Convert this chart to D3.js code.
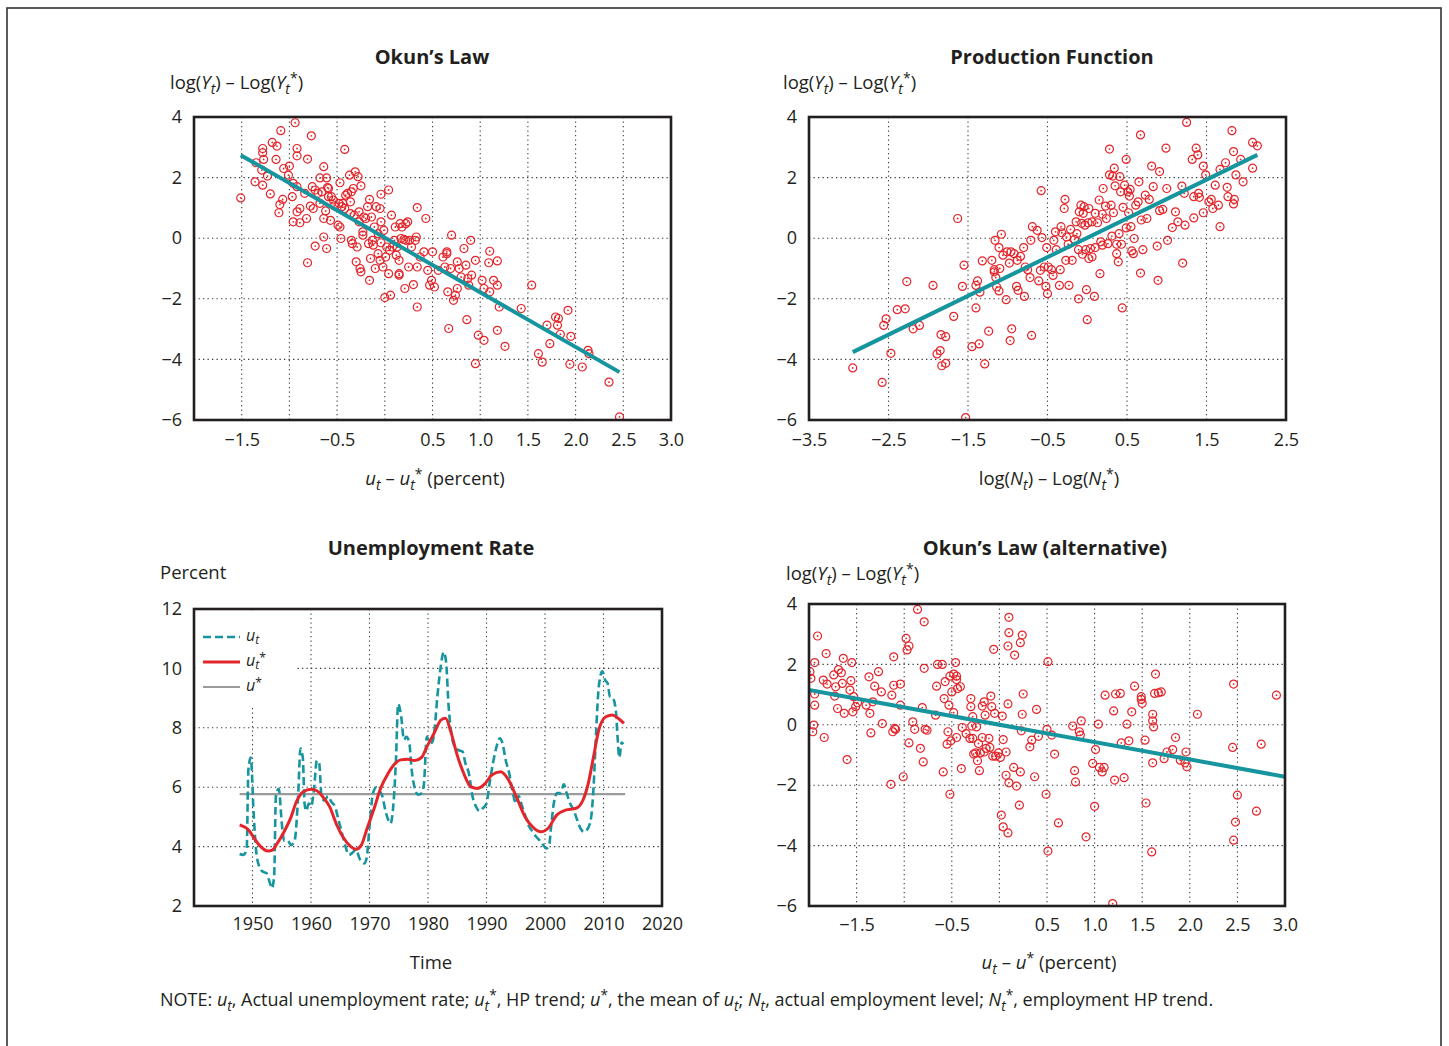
<!DOCTYPE html>
<html>
<head>
<meta charset="utf-8">
<script src="https://cdn.jsdelivr.net/npm/d3@7"></script>
<style>
  body { margin: 0; background: #fff; }
  text { font-family: "Open Sans", sans-serif; fill: #231f20; }
</style>
</head>
<body>
<svg id="chart" width="1449" height="1046"></svg>
<script>
// Four panels: Okun's law, production function, unemployment rate, Okun's law (alternative)

// ---- data ----
// Okun's law: [u_t - u_t*, log(Y_t) - log(Y_t*)]
const okunPoints = [
  [-1.51,1.33],[-1.35,2.49],[-1.36,1.86],[-1.28,2.96],[-1.28,2.82],[-1.27,2.60],[-1.28,1.75],[-1.29,2.25],
  [-1.23,2.05],[-1.20,1.46],[-1.18,3.16],[-1.13,3.04],[-1.14,2.60],[-1.09,3.55],[-1.11,0.84],[-1.10,1.11],
  [-1.07,1.28],[-1.06,2.30],[-1.00,2.38],[-1.01,2.08],[-0.97,1.37],[-0.96,0.54],[-0.96,1.81],[-0.94,3.81],
  [-0.92,2.96],[-0.92,2.72],[-0.92,1.70],[-0.92,0.87],[-0.89,0.98],[-0.89,0.51],[-0.82,0.65],[-0.81,2.61],
  [-0.84,1.48],[-0.81,-0.81],[-0.77,3.38],[-0.78,1.06],[-0.76,1.70],[-0.75,0.98],[-0.73,-0.26],[-0.73,1.59],
  [-0.70,1.48],[-0.68,1.99],[-0.68,1.15],[-0.66,1.53],[-0.64,2.36],[-0.64,0.65],[-0.64,0.04],[-0.62,0.90],
  [-0.61,1.99],[-0.61,-0.34],[-0.60,1.67],[-0.59,1.37],[-0.59,1.64],[-0.57,0.59],[-0.56,1.37],[-0.54,1.26],
  [-0.53,1.07],[-0.49,0.43],[-0.48,1.15],[-0.47,1.83],[-0.47,0.37],[-0.46,-0.01],[-0.45,1.04],[-0.44,1.15],
  [-0.42,2.93],[-0.42,0.98],[-0.41,1.42],[-0.39,1.48],[-0.37,2.08],[-0.36,0.81],[-0.36,1.20],[-0.35,-0.07],
  [-0.35,1.53],[-0.34,-0.18],[-0.33,1.64],[-0.32,0.76],[-0.31,2.19],[-0.30,-0.78],[-0.29,-0.29],[-0.28,2.03],
  [-0.27,0.87],[-0.26,-1.00],[-0.25,1.73],[-0.25,-1.11],[-0.27,0.54],[-0.23,0.21],[-0.23,0.10],[-0.22,0.70],
  [-0.20,0.65],[-0.18,1.04],[-0.17,-0.18],[-0.16,1.28],[-0.16,-1.39],[-0.15,-0.67],[-0.14,0.70],[-0.13,-0.07],
  [-0.12,-0.23],[-0.11,0.37],[-0.10,-1.00],[-0.09,1.04],[-0.07,-0.51],[-0.07,0.15],[-0.05,0.98],[-0.05,-0.73],
  [-0.04,0.54],[-0.04,1.45],[-0.04,-0.15],[-0.02,-0.95],[-0.01,0.26],[0.00,-1.96],[0.01,-0.62],[0.02,-0.29],
  [0.04,1.59],[0.04,-1.17],[0.05,-0.40],[0.06,-1.88],[0.07,0.76],[0.08,-0.29],[0.10,-0.07],[0.11,0.37],
  [0.12,-0.56],[0.13,-0.29],[0.15,-1.17],[0.15,-0.73],[0.15,-1.22],[0.16,0.48],[0.17,-0.01],[0.18,0.37],
  [0.20,-0.04],[0.21,-1.66],[0.22,-0.07],[0.22,0.48],[0.24,0.54],[0.25,-0.95],[0.26,-0.07],[0.28,-0.29],
  [0.30,-1.53],[0.32,-0.07],[0.33,0.04],[0.34,1.01],[0.34,-2.27],[0.34,-0.95],[0.37,-0.62],[0.41,-0.45],
  [0.43,0.65],[0.45,-1.06],[0.47,-1.55],[0.49,-1.39],[0.50,-0.45],[0.52,-1.61],[0.56,-1.06],[0.61,-0.62],
  [0.63,-0.95],[0.65,-0.51],[0.65,-0.45],[0.66,-1.77],[0.67,-2.98],[0.69,-1.00],[0.70,0.10],[0.72,-2.05],
  [0.74,-1.88],[0.76,-1.66],[0.76,-0.78],[0.78,-1.00],[0.80,-1.28],[0.83,-0.34],[0.85,-0.89],[0.86,-2.69],
  [0.87,-1.33],[0.88,-1.55],[0.90,-0.07],[0.91,-1.22],[0.95,-0.73],[0.95,-4.14],[0.98,-3.20],[1.02,-1.39],
  [1.04,-3.37],[1.04,-1.66],[1.09,-0.81],[1.10,-0.43],[1.10,-1.77],[1.14,-1.39],[1.18,-1.55],[1.18,-0.75],
  [1.18,-3.04],[1.20,-2.27],[1.26,-3.57],[1.43,-2.32],[1.54,-1.55],[1.61,-3.81],[1.65,-4.09],[1.70,-2.87],
  [1.73,-3.48],[1.79,-2.60],[1.81,-2.87],[1.82,-2.65],[1.84,-3.17],[1.92,-2.38],[1.94,-4.16],[1.95,-3.24],
  [2.07,-4.25],[2.13,-3.70],[2.14,-3.81],[2.35,-4.75],[2.46,-5.90]
];
const okunFit = [[-1.51,2.74],[2.46,-4.42]];

// Production function: [log(N_t) - log(N_t*), log(Y_t) - log(Y_t*)]
const prodPoints = [
  [-2.95,-4.28],[-2.58,-4.76],[-2.56,-2.88],[-2.53,-2.66],[-2.47,-3.80],[-2.39,-2.36],[-2.29,-2.33],[-2.27,-1.43],
  [-2.19,-2.99],[-2.11,-2.88],[-1.94,-1.56],[-1.89,-3.82],[-1.85,-3.71],[-1.84,-3.18],[-1.83,-4.21],[-1.78,-4.13],
  [-1.78,-3.25],[-1.68,-2.58],[-1.63,0.65],[-1.57,-1.59],[-1.55,-0.89],[-1.53,-5.92],[-1.45,-3.58],[-1.40,-2.30],
  [-1.40,-1.56],[-1.38,-1.41],[-1.36,-3.49],[-1.35,-1.78],[-1.32,-0.75],[-1.29,-4.15],[-1.24,-3.07],[-1.20,-0.73],
  [-1.17,-1.04],[-1.17,-1.11],[-1.16,-0.07],[-1.15,-1.30],[-1.14,-1.61],[-1.11,-1.74],[-1.11,-0.31],[-1.10,-1.00],
  [-1.08,0.13],[-1.06,-0.56],[-1.02,-2.03],[-1.01,-0.45],[-0.98,-0.82],[-0.97,-3.38],[-0.96,-0.45],[-0.95,-2.99],
  [-0.92,-0.51],[-0.89,-1.59],[-0.88,-0.73],[-0.87,-1.72],[-0.84,-0.60],[-0.80,-0.31],[-0.79,-1.92],[-0.78,-0.95],
  [-0.75,-1.04],[-0.72,-1.30],[-0.71,-0.07],[-0.70,-3.21],[-0.69,0.38],[-0.63,0.26],[-0.61,-1.41],[-0.59,-1.06],
  [-0.58,1.57],[-0.57,0.02],[-0.54,-0.95],[-0.52,-1.59],[-0.51,-0.31],[-0.50,-1.83],[-0.49,-0.95],[-0.45,-1.04],
  [-0.43,-1.23],[-0.42,-0.07],[-0.40,0.21],[-0.39,-0.38],[-0.35,-1.56],[-0.34,-1.04],[-0.33,0.38],[-0.32,0.18],
  [-0.29,0.98],[-0.28,1.28],[-0.27,-0.73],[-0.26,0.04],[-0.24,-0.20],[-0.23,-1.56],[-0.21,0.29],[-0.19,-0.73],
  [-0.16,-0.04],[-0.14,0.54],[-0.13,0.15],[-0.11,-0.38],[-0.11,-2.00],[-0.10,0.87],[-0.08,1.09],[-0.07,0.49],
  [-0.06,-0.53],[-0.05,0.82],[-0.04,1.04],[-0.03,0.43],[-0.02,-0.38],[-0.01,-1.70],[0.00,-2.69],[0.01,0.51],
  [0.02,-0.67],[0.02,0.98],[0.04,-0.34],[0.06,0.54],[0.06,-0.62],[0.09,-1.92],[0.10,0.82],[0.10,-0.31],
  [0.13,0.51],[0.15,1.26],[0.16,-1.17],[0.17,-0.12],[0.19,-0.23],[0.19,0.79],[0.20,1.64],[0.23,1.06],
  [0.24,0.65],[0.26,-0.18],[0.28,2.94],[0.28,2.09],[0.30,1.09],[0.31,0.07],[0.32,2.05],[0.33,0.84],
  [0.34,2.31],[0.35,1.73],[0.37,-0.20],[0.37,-0.51],[0.39,-0.78],[0.40,0.15],[0.41,2.03],[0.42,1.53],
  [0.43,-0.20],[0.44,-2.30],[0.45,1.02],[0.47,1.75],[0.49,2.60],[0.49,0.34],[0.51,1.53],[0.52,0.84],
  [0.53,1.39],[0.54,1.61],[0.55,0.38],[0.56,-0.42],[0.58,-0.51],[0.59,-0.01],[0.61,1.09],[0.64,1.20],
  [0.65,1.86],[0.67,3.41],[0.67,-1.15],[0.68,0.60],[0.70,-0.38],[0.73,1.42],[0.75,0.65],[0.78,1.28],
  [0.81,2.38],[0.83,1.70],[0.88,-0.26],[0.89,-1.39],[0.91,2.20],[0.91,0.91],[0.95,0.95],[0.99,2.97],
  [1.00,1.64],[1.01,-0.07],[1.07,0.35],[1.11,0.87],[1.14,0.54],[1.19,1.72],[1.20,-0.82],[1.22,1.48],
  [1.25,3.82],[1.23,0.43],[1.32,2.60],[1.34,0.67],[1.34,1.37],[1.37,2.97],[1.39,2.75],[1.40,1.48],
  [1.41,1.35],[1.46,2.38],[1.46,0.84],[1.49,2.09],[1.53,1.20],[1.56,1.28],[1.58,0.98],[1.61,1.75],
  [1.65,1.09],[1.67,0.38],[1.67,2.27],[1.74,2.49],[1.76,1.68],[1.77,1.37],[1.82,3.55],[1.84,2.86],
  [1.84,1.13],[1.85,1.28],[1.87,2.09],[1.93,2.60],[1.96,1.86],[2.08,2.31],[2.08,3.16],[2.14,3.05]
];
const prodFit = [[-2.95,-3.76],[2.14,2.75]];

// Okun's law (alternative): [u_t - u*, log(Y_t) - log(Y_t*)]
const altPoints = [
  [-1.99,1.76],[-1.98,1.54],[-1.96,-0.23],[-1.95,-0.01],[-1.94,0.65],[-1.94,2.06],[-1.94,1.02],[-1.91,2.94],
  [-1.85,1.48],[-1.84,-0.42],[-1.82,2.36],[-1.81,1.35],[-1.74,1.65],[-1.73,0.95],[-1.72,1.26],[-1.70,0.54],
  [-1.69,1.83],[-1.66,1.72],[-1.65,1.37],[-1.64,2.20],[-1.63,0.38],[-1.60,-1.15],[-1.57,1.15],[-1.56,1.46],
  [-1.55,2.06],[-1.54,0.43],[-1.53,0.93],[-1.51,0.60],[-1.49,0.73],[-1.40,0.65],[-1.37,1.59],[-1.36,0.38],
  [-1.35,-0.27],[-1.33,0.76],[-1.31,1.28],[-1.27,1.76],[-1.24,1.09],[-1.23,0.04],[-1.14,-1.97],[-1.13,0.98],
  [-1.12,-0.23],[-1.11,2.25],[-1.11,1.31],[-1.10,-0.12],[-1.09,-0.15],[-1.04,1.35],[-1.04,0.65],[-1.01,-1.72],
  [-0.98,2.86],[-0.97,2.48],[-0.95,2.61],[-0.95,-0.60],[-0.91,0.10],[-0.89,-0.15],[-0.86,3.82],[-0.83,-0.78],
  [-0.81,0.57],[-0.80,-1.23],[-0.79,1.87],[-0.79,3.41],[-0.78,-0.15],[-0.76,-0.18],[-0.67,0.32],[-0.66,1.28],
  [-0.65,2.00],[-0.60,2.00],[-0.59,-1.56],[-0.58,0.87],[-0.57,1.43],[-0.55,-0.64],[-0.54,-0.23],[-0.53,0.65],
  [-0.52,-2.30],[-0.52,1.61],[-0.51,-0.53],[-0.50,1.09],[-0.48,1.68],[-0.48,0.40],[-0.46,2.06],[-0.45,1.61],
  [-0.45,-0.42],[-0.45,1.50],[-0.44,1.20],[-0.41,1.26],[-0.40,-1.45],[-0.39,-0.09],[-0.35,-0.29],[-0.31,-0.45],
  [-0.30,0.87],[-0.30,0.60],[-0.29,-0.04],[-0.28,0.27],[-0.28,-0.45],[-0.27,-0.97],[-0.25,-0.93],[-0.24,-0.07],
  [-0.23,-1.19],[-0.22,-0.62],[-0.21,-1.52],[-0.20,-0.93],[-0.18,-0.42],[-0.18,0.62],[-0.16,0.76],[-0.16,-0.90],
  [-0.15,0.32],[-0.14,-0.78],[-0.11,-0.45],[-0.10,-0.75],[-0.09,0.95],[-0.08,0.60],[-0.07,-1.04],[-0.06,2.50],
  [-0.05,0.38],[-0.04,-1.04],[-0.01,-0.93],[0.01,-1.08],[0.02,-2.99],[0.03,0.29],[0.04,-0.49],[0.04,-3.38],
  [0.07,-0.90],[0.07,-1.67],[0.09,-3.58],[0.09,2.61],[0.09,0.69],[0.10,3.05],[0.10,3.56],[0.10,-1.92],
  [0.15,-1.41],[0.16,2.31],[0.18,-2.03],[0.21,-2.66],[0.22,2.72],[0.22,-1.56],[0.23,-0.20],[0.24,2.97],
  [0.24,0.35],[0.25,1.02],[0.32,-0.73],[0.34,-0.51],[0.37,-1.72],[0.39,0.51],[0.41,-0.38],[0.49,-2.30],
  [0.50,-0.15],[0.51,-4.18],[0.51,2.09],[0.55,-0.34],[0.58,-0.97],[0.62,-3.25],[0.77,-0.04],[0.79,-1.52],
  [0.80,-1.89],[0.84,-0.23],[0.85,-0.34],[0.86,0.13],[0.91,-3.71],[0.98,-1.28],[1.00,-2.70],[1.01,-0.82],
  [1.04,0.02],[1.05,-1.41],[1.08,-1.56],[1.10,-1.41],[1.11,0.98],[1.20,0.46],[1.21,-1.83],[1.22,1.02],
  [1.27,1.04],[1.28,-0.60],[1.31,-1.75],[1.34,0.02],[1.36,-0.53],[1.39,0.43],[1.42,1.28],[1.49,0.93],
  [1.49,0.84],[1.50,0.71],[1.53,-0.51],[1.54,-2.59],[1.60,-4.21],[1.61,-1.26],[1.61,0.35],[1.61,0.13],
  [1.62,-0.07],[1.63,1.04],[1.64,1.68],[1.67,1.06],[1.70,1.09],[1.73,-1.12],[1.76,-0.90],[1.82,-0.82],
  [1.85,-0.42],[1.90,-1.17],[1.95,-1.26],[1.96,-0.90],[1.97,-1.39],[2.08,0.35],[2.45,-0.75],[2.46,1.35],
  [2.46,-3.82],[2.48,-3.22],[2.50,-2.33],[2.70,-2.86],[2.75,-0.64],[2.91,0.98],[1.19,-5.92]
];
const altFit = [[-2.0,1.15],[3.0,-1.72]];

// Unemployment rate: [year, percent]
const uActual = [
  [1947.8,3.75],[1948.4,3.72],[1949.0,3.9],[1949.3,6.6],[1949.7,7.0],[1950.2,5.1],[1950.6,3.9],[1951.2,3.3],
  [1951.8,3.15],[1952.4,3.1],[1953.0,2.76],[1953.3,2.6],[1953.7,3.0],[1954.0,5.7],[1954.5,5.95],[1955.0,4.8],
  [1955.4,4.2],[1956.0,4.2],[1956.6,4.05],[1957.2,4.2],[1957.8,5.7],[1958.2,7.3],[1958.6,7.0],[1958.9,5.45],
  [1959.2,5.2],[1959.6,5.45],[1960.0,5.35],[1960.5,5.9],[1961.0,6.9],[1961.4,6.8],[1961.8,5.7],[1962.3,5.55],
  [1962.9,5.7],[1963.5,5.5],[1964.1,5.35],[1964.7,4.9],[1965.3,4.45],[1965.9,4.0],[1966.5,3.72],[1967.0,3.78],
  [1967.7,3.9],[1968.3,3.6],[1969.1,3.43],[1969.5,3.6],[1970.0,4.67],[1970.6,5.8],[1971.2,6.0],[1971.8,5.85],
  [1972.2,5.7],[1972.7,5.23],[1973.2,4.9],[1973.6,4.78],[1974.0,5.23],[1974.5,6.8],[1974.9,8.8],[1975.4,8.4],
  [1975.9,7.6],[1976.3,7.7],[1976.8,7.5],[1977.2,6.6],[1977.7,6.0],[1978.3,5.75],[1978.9,5.8],[1979.3,6.1],
  [1979.8,7.7],[1980.3,7.5],[1980.7,7.5],[1981.1,7.9],[1981.6,9.05],[1982.1,9.95],[1982.7,10.55],[1983.1,10.2],
  [1983.5,8.8],[1984.0,7.8],[1984.6,7.35],[1985.2,7.25],[1985.9,7.2],[1986.4,6.8],[1987.0,6.45],[1987.6,5.7],
  [1988.2,5.35],[1988.8,5.2],[1989.4,5.3],[1990.0,5.45],[1990.5,6.1],[1991.1,6.8],[1991.7,7.35],[1992.3,7.65],
  [1992.7,7.5],[1993.3,6.9],[1993.9,6.45],[1994.5,5.8],[1995.1,5.45],[1995.5,5.7],[1996.1,5.35],[1996.7,5.0],
  [1997.3,4.67],[1997.9,4.5],[1998.5,4.33],[1999.1,4.2],[1999.7,4.05],[2000.2,3.94],[2000.7,4.05],[2001.1,4.78],
  [2001.5,5.45],[2002.1,5.8],[2002.7,5.8],[2003.2,6.1],[2003.7,5.8],[2004.3,5.45],[2004.9,5.23],[2005.5,4.9],
  [2006.1,4.6],[2006.7,4.5],[2007.3,4.6],[2007.9,5.0],[2008.3,6.0],[2008.7,7.7],[2009.2,9.4],[2009.8,9.9],
  [2010.3,9.6],[2010.7,9.5],[2011.1,9.05],[2011.6,9.0],[2012.1,8.6],[2012.4,7.7],[2012.7,7.0],[2013.1,7.5],
  [2013.4,7.45]
];
const uTrend = [
  [1947.8,4.73],[1949.4,4.54],[1950.3,4.28],[1951.4,4.0],[1952.7,3.85],[1953.4,3.88],[1954.2,4.1],[1955.4,4.5],
  [1956.6,5.0],[1957.5,5.51],[1958.7,5.85],[1960.0,5.93],[1961.0,5.88],[1962.0,5.68],[1963.2,5.34],[1964.4,4.73],
  [1965.6,4.28],[1966.8,4.0],[1967.7,3.91],[1968.6,4.05],[1969.5,4.56],[1970.7,5.23],[1971.9,5.96],[1973.2,6.47],
  [1974.4,6.8],[1975.3,6.92],[1976.5,6.94],[1977.7,6.9],[1978.9,7.0],[1979.8,7.36],[1981.0,7.8],[1982.2,8.26],
  [1983.0,8.32],[1983.9,7.87],[1984.9,7.14],[1986.1,6.47],[1987.3,6.02],[1988.5,5.96],[1989.7,6.11],[1990.9,6.41],
  [1992.4,6.52],[1993.6,6.3],[1995.1,5.68],[1996.6,5.0],[1998.1,4.62],[1999.3,4.5],[2000.5,4.61],[2002.0,5.06],
  [2003.5,5.23],[2005.3,5.29],[2006.5,5.57],[2007.4,6.13],[2008.3,7.03],[2009.2,7.93],[2010.4,8.37],[2011.5,8.43],
  [2012.5,8.32],[2013.5,8.15]
];
const uMean = 5.77;
const uSpan = [1947.8, 2013.7];

// ticks and grid
const okunXTicks = [-1.5, -0.5, 0.5, 1.0, 1.5, 2.0, 2.5, 3.0];
const okunXGrid = [-1.5, -1, -0.5, 0, 0.5, 1, 1.5, 2, 2.5];
const outputYTicks = [-6, -4, -2, 0, 2, 4];
const outputYGrid = [-4, -2, 0, 2];
const prodXTicks = [-3.5, -2.5, -1.5, -0.5, 0.5, 1.5, 2.5];
const prodXGrid = [-2.5, -1.5, -0.5, 0.5, 1.5];
const yearTicks = [1950, 1960, 1970, 1980, 1990, 2000, 2010, 2020];
const yearGrid = [1950, 1960, 1970, 1980, 1990, 2000, 2010];
const rateTicks = [2, 4, 6, 8, 10, 12];
const rateGrid = [4, 6, 8, 10];

const TEAL = "#16959e";
const RED = "#e3262b";
const GRAY = "#9b9b9b";
const INK = "#231f20";

const svg = d3.select("#chart");

// outer border
svg.append("rect")
  .attr("x", 7).attr("y", 8).attr("width", 1434).attr("height", 1080)
  .attr("fill", "none").attr("stroke", "#333").attr("stroke-width", 1.6);

// text with italic / subscript / superscript pieces
const richText = (sel, parts, subDy = 5, supDy = -6) => {
  let shift = 0;
  parts.forEach(([str, style]) => {
    const ts = sel.append("tspan").text(str);
    let target = 0;
    if (style.includes("sub")) { target = subDy; ts.attr("font-size", "0.76em"); }
    if (style.includes("sup")) { target = supDy; ts.attr("font-size", "0.76em"); }
    if (style.includes("i")) ts.attr("font-style", "italic");
    if (target !== shift) ts.attr("dy", target - shift);
    shift = target;
  });
  return sel;
};

const addText = (x, y, parts, opts = {}) => {
  const t = svg.append("text")
    .attr("x", x).attr("y", y)
    .attr("font-size", opts.size || 18.5)
    .attr("text-anchor", opts.anchor || "start")
    .attr("font-weight", opts.bold ? "bold" : null);
  return richText(t, parts);
};

let clipId = 0;

const drawPanel = (cfg) => {
  const g = svg.append("g");
  const x = d3.scaleLinear().domain(cfg.xDomain).range([cfg.left, cfg.right]);
  const y = d3.scaleLinear().domain(cfg.yDomain).range([cfg.bottom, cfg.top]);

  // dotted grid
  const grid = g.append("g")
    .attr("stroke", "#3a3a3a").attr("stroke-width", 1.1).attr("stroke-dasharray", "1.3,3.2");
  grid.selectAll(".vx").data(cfg.xGrid).join("line")
    .attr("x1", (d) => x(d)).attr("x2", (d) => x(d))
    .attr("y1", cfg.top).attr("y2", cfg.bottom);
  grid.selectAll(".hy").data(cfg.yGrid).join("line")
    .attr("x1", cfg.left).attr("x2", cfg.right)
    .attr("y1", (d) => y(d)).attr("y2", (d) => y(d));

  const id = "clip" + (clipId++);
  svg.append("clipPath").attr("id", id).append("rect")
    .attr("x", cfg.left).attr("y", cfg.top)
    .attr("width", cfg.right - cfg.left).attr("height", cfg.bottom - cfg.top);
  const plot = g.append("g").attr("clip-path", "url(#" + id + ")");

  // axes: labels only
  const xAxis = d3.axisBottom(x).tickValues(cfg.xTicks).tickSize(0).tickPadding(cfg.xPad || 13)
    .tickFormat(cfg.xFormat);
  const yAxis = d3.axisLeft(y).tickValues(cfg.yTicks).tickSize(0).tickPadding(12)
    .tickFormat(d3.format("d"));
  [g.append("g").attr("transform", "translate(0," + cfg.bottom + ")").call(xAxis),
   g.append("g").attr("transform", "translate(" + cfg.left + ",0)").call(yAxis)]
    .forEach((ax) => {
      ax.select(".domain").remove();
      ax.selectAll("text").attr("font-size", 18).attr("fill", INK)
        .attr("font-family", '"Open Sans", sans-serif');
    });

  return { g, plot, x, y };
};

const drawScatter = (panel, points, fit) => {
  const marks = panel.plot.append("g").selectAll("g").data(points).join("g")
    .attr("transform", (d) => "translate(" + panel.x(d[0]) + "," + panel.y(d[1]) + ")");
  marks.append("circle").attr("r", 4).attr("fill", "none")
    .attr("stroke", RED).attr("stroke-width", 1.2);
  marks.append("circle").attr("r", 0.9).attr("fill", RED);

  panel.plot.append("path")
    .datum(fit)
    .attr("d", d3.line().x((d) => panel.x(d[0])).y((d) => panel.y(d[1])))
    .attr("stroke", TEAL).attr("stroke-width", 4).attr("fill", "none");
};

const drawFrame = (cfg) => {
  svg.append("rect")
    .attr("x", cfg.left).attr("y", cfg.top)
    .attr("width", cfg.right - cfg.left).attr("height", cfg.bottom - cfg.top)
    .attr("fill", "none").attr("stroke", INK).attr("stroke-width", 2.6);
};

const fmt1 = d3.format(".1f");

// ---- Okun's Law ----
const cfgOkun = {
  left: 194, right: 671, top: 117, bottom: 420,
  xDomain: [-2, 3], yDomain: [-6, 4],
  xTicks: okunXTicks, xGrid: okunXGrid, yTicks: outputYTicks, yGrid: outputYGrid, xFormat: fmt1
};
const pOkun = drawPanel(cfgOkun);
drawScatter(pOkun, okunPoints, okunFit);
drawFrame(cfgOkun);

// ---- Production Function ----
const cfgProd = {
  left: 809, right: 1286, top: 117, bottom: 420,
  xDomain: [-3.5, 2.5], yDomain: [-6, 4],
  xTicks: prodXTicks, xGrid: prodXGrid, yTicks: outputYTicks, yGrid: outputYGrid, xFormat: fmt1
};
const pProd = drawPanel(cfgProd);
drawScatter(pProd, prodPoints, prodFit);
drawFrame(cfgProd);

// ---- Unemployment Rate ----
const cfgRate = {
  left: 194, right: 662, top: 609, bottom: 906,
  xDomain: [1940, 2020], yDomain: [2, 12],
  xTicks: yearTicks, xGrid: yearGrid, yTicks: rateTicks, yGrid: rateGrid,
  xFormat: d3.format("d"), xPad: 11
};
const pRate = drawPanel(cfgRate);
const line = d3.line().x((d) => pRate.x(d[0])).y((d) => pRate.y(d[1])).curve(d3.curveMonotoneX);
pRate.plot.append("path").datum(uSpan.map((yr) => [yr, uMean]))
  .attr("d", line).attr("stroke", GRAY).attr("stroke-width", 2.2).attr("fill", "none");
pRate.plot.append("path").datum(uActual)
  .attr("d", line).attr("stroke", TEAL).attr("stroke-width", 2.6)
  .attr("stroke-dasharray", "8,4").attr("fill", "none");
pRate.plot.append("path").datum(uTrend)
  .attr("d", line).attr("stroke", RED).attr("stroke-width", 3).attr("fill", "none");

// legend
const legend = pRate.g.append("g");
legend.append("rect").attr("x", 196).attr("y", 611).attr("width", 100).attr("height", 95).attr("fill", "#fff");
const legendItems = [
  { y: 637, stroke: TEAL, width: 2.6, dash: "8,4", label: [["u", "i"], ["t", "i sub"]] },
  { y: 662, stroke: RED, width: 3, dash: null, label: [["u", "i"], ["t", "i sub"], ["*", "sup"]] },
  { y: 687, stroke: GRAY, width: 2.2, dash: null, label: [["u", "i"], ["*", "sup"]] }
];
legendItems.forEach((it) => {
  legend.append("line").attr("x1", 203).attr("x2", 240).attr("y1", it.y).attr("y2", it.y)
    .attr("stroke", it.stroke).attr("stroke-width", it.width).attr("stroke-dasharray", it.dash);
  const t = legend.append("text").attr("x", 246).attr("y", it.y + 4).attr("font-size", 16);
  richText(t, it.label, 3, -4);
});
drawFrame(cfgRate);

// ---- Okun's Law (alternative) ----
const cfgAlt = {
  left: 809, right: 1285, top: 604, bottom: 906,
  xDomain: [-2, 3], yDomain: [-6, 4],
  xTicks: okunXTicks, xGrid: okunXGrid, yTicks: outputYTicks, yGrid: outputYGrid, xFormat: fmt1, xPad: 12
};
const pAlt = drawPanel(cfgAlt);
drawScatter(pAlt, altPoints, altFit);
drawFrame(cfgAlt);

// ---- titles and axis labels ----
const yOutput = [["log(", ""], ["Y", "i"], ["t", "i sub"], [") \u2013 Log(", ""], ["Y", "i"], ["t", "i sub"], ["*", "sup"], [")", ""]];
addText(432, 64, [["Okun\u2019s Law", ""]], { anchor: "middle", bold: true, size: 20 });
addText(1052, 64, [["Production Function", ""]], { anchor: "middle", bold: true, size: 20 });
addText(431, 555, [["Unemployment Rate", ""]], { anchor: "middle", bold: true, size: 20 });
addText(1045, 555, [["Okun\u2019s Law (alternative)", ""]], { anchor: "middle", bold: true, size: 20 });

addText(170, 89, yOutput);
addText(783, 89, yOutput);
addText(160, 579, [["Percent", ""]]);
addText(786, 580, yOutput);

addText(435, 485, [["u", "i"], ["t", "i sub"], [" \u2013 ", ""], ["u", "i"], ["t", "i sub"], ["*", "sup"], [" (percent)", ""]], { anchor: "middle" });
addText(1049, 485, [["log(", ""], ["N", "i"], ["t", "i sub"], [") \u2013 Log(", ""], ["N", "i"], ["t", "i sub"], ["*", "sup"], [")", ""]], { anchor: "middle" });
addText(431, 969, [["Time", ""]], { anchor: "middle" });
addText(1049, 969, [["u", "i"], ["t", "i sub"], [" \u2013 ", ""], ["u", "i"], ["*", "sup"], [" (percent)", ""]], { anchor: "middle" });

// note
addText(160, 1006, [
  ["NOTE: ", ""], ["u", "i"], ["t", "i sub"], [", Actual unemployment rate; ", ""],
  ["u", "i"], ["t", "i sub"], ["*", "sup"], [", HP trend; ", ""],
  ["u", "i"], ["*", "sup"], [", the mean of ", ""], ["u", "i"], ["t", "i sub"], ["; ", ""],
  ["N", "i"], ["t", "i sub"], [", actual employment level; ", ""],
  ["N", "i"], ["t", "i sub"], ["*", "sup"], [", employment HP trend.", ""]
], { size: 18 });
</script>
</body>
</html>
